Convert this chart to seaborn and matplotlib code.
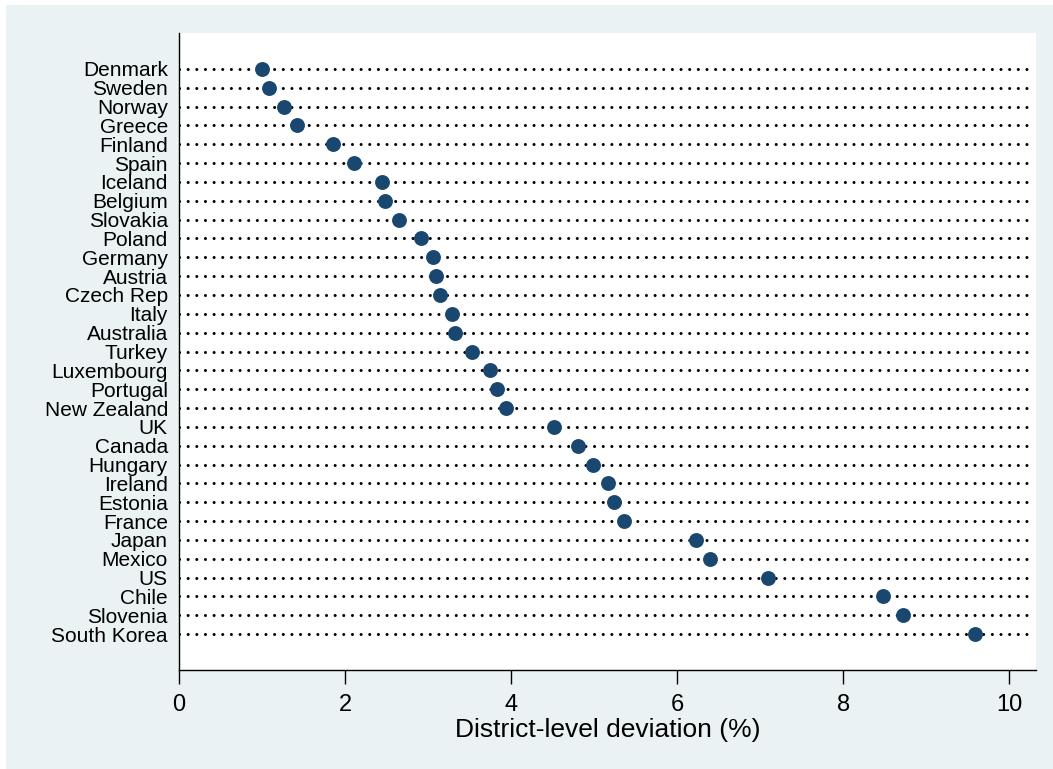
import matplotlib
matplotlib.use("Agg")
import matplotlib.pyplot as plt
import seaborn as sns
import pandas as pd
from matplotlib.patches import Rectangle

countries = ["Denmark", "Sweden", "Norway", "Greece", "Finland", "Spain", "Iceland",
             "Belgium", "Slovakia", "Poland", "Germany", "Austria", "Czech Rep", "Italy",
             "Australia", "Turkey", "Luxembourg", "Portugal", "New Zealand", "UK", "Canada",
             "Hungary", "Ireland", "Estonia", "France", "Japan", "Mexico", "US", "Chile",
             "Slovenia", "South Korea"]
deviation = [1.00, 1.085, 1.27, 1.415, 1.857, 2.11, 2.45, 2.48, 2.65, 2.91, 3.055, 3.095,
             3.14, 3.29, 3.32, 3.53, 3.75, 3.83, 3.94, 4.52, 4.81, 4.98, 5.165, 5.24, 5.36,
             6.22, 6.40, 7.09, 8.48, 8.72, 9.585]
x_ticks = [0, 2, 4, 6, 8, 10]
x_label = "District-level deviation (%)"

df = pd.DataFrame({"country": countries, "deviation": deviation})

sns.set_theme(style="white")
plt.rcParams["font.family"] = ["Liberation Sans", "DejaVu Sans"]

W, H = 1053, 769
fig = plt.figure(figsize=(W / 100, H / 100), dpi=100, facecolor="white")
bg = Rectangle((6 / W, 0), 1 - 6 / W, 1 - 5 / H, transform=fig.transFigure,
               facecolor="#EAF2F3", edgecolor="none", zorder=-10)
fig.add_artist(bg)
ax = fig.add_axes([179 / W, 1 - 670 / H, (1036 - 179) / W, (670 - 33) / H])
ax.set_zorder(1)
ax.set_facecolor("white")

xmin, xmax = 0, 10.32
# dotted guide lines
for i in range(len(countries)):
    ax.plot([xmin, 10.22], [i, i], color="black", lw=2.2,
            linestyle=(0, (0.01, 2.82)), dash_capstyle="round", zorder=1)

sns.scatterplot(data=df, x="deviation", y="country", ax=ax, s=115, color="#1A476F",
                edgecolor="#1A476F", linewidth=0, zorder=3, legend=False)

ax.set_xlim(xmin, xmax)
ax.set_ylim(len(countries) - 1 + 1.91, -1.91)
ax.set_xticks(x_ticks)
ax.set_xticklabels([str(t) for t in x_ticks], fontsize=17)
ax.set_yticks(range(len(countries)))
ax.set_yticklabels(countries, fontsize=15)
ax.tick_params(axis="y", length=0, pad=8, colors="black")
ax.tick_params(axis="x", length=10, width=1, direction="out", pad=7, colors="black",
               bottom=True)
ax.set_xlabel(x_label, fontsize=19, labelpad=2, color="black")
ax.set_ylabel("")
for s in ["top", "right"]:
    ax.spines[s].set_visible(False)
for s in ["left", "bottom"]:
    ax.spines[s].set_visible(True)
    ax.spines[s].set_color("black")
    ax.spines[s].set_linewidth(1.0)

fig.savefig("out.png", dpi=100, facecolor=fig.get_facecolor())
